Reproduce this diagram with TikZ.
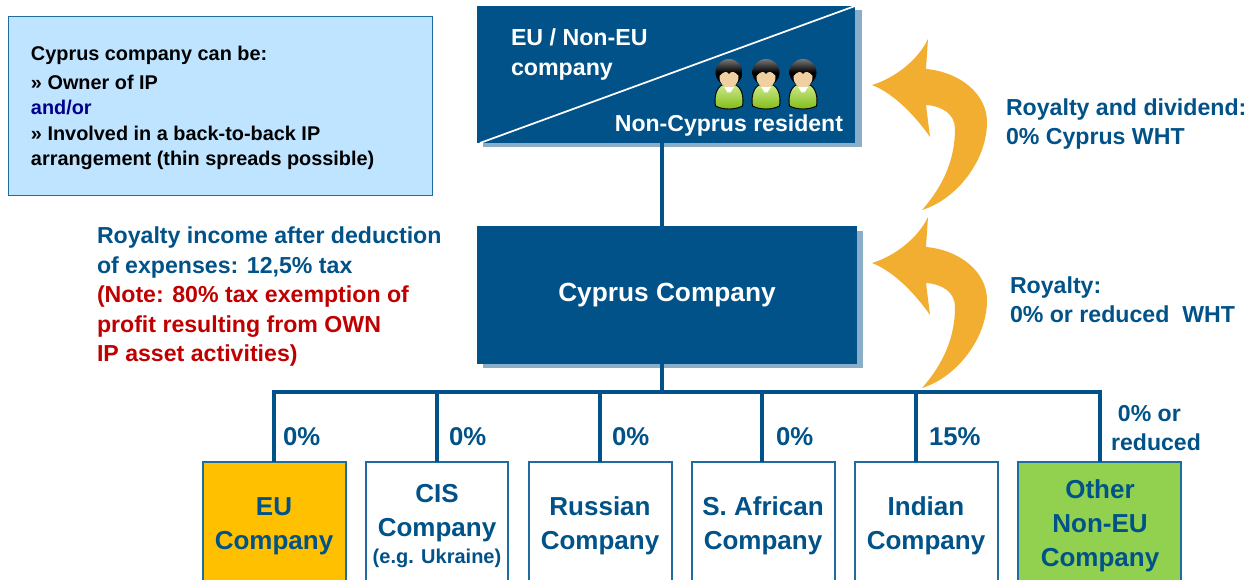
\documentclass[tikz,border=0pt]{standalone}
\usepackage{fontspec}
\setmainfont{Liberation Sans}[BoldFont={Liberation Sans Bold}]
\definecolor{navy}{HTML}{005288}
\definecolor{shadowblue}{HTML}{8AAEC8}
\definecolor{amber}{HTML}{F2AE30}
\definecolor{paleblue}{HTML}{BFE4FF}
\definecolor{boxedge}{HTML}{1F6CA0}
\definecolor{goldfill}{HTML}{FFC000}
\definecolor{leaffill}{HTML}{92D050}
\definecolor{redtxt}{HTML}{C00000}
\definecolor{deepblue}{HTML}{00008B}
\definecolor{skin}{HTML}{F0CFA0}
\definecolor{shirtlight}{HTML}{CDE88A}
\definecolor{shirtdark}{HTML}{7DBB12}
\definecolor{hairlight}{HTML}{777777}
\tikzset{
  x=0.75pt,y=-0.75pt,
  txt/.style={font=\bfseries\fontsize{#1}{#1}\selectfont,inner sep=0pt,outer sep=0pt},
  navybox/.style={fill=navy,draw=none,inner sep=0pt,outer sep=0pt,text=white},
  wire/.style={draw=navy,line width=3pt},
  leafbox/.style={draw=boxedge,line width=1pt,inner sep=0pt,outer sep=0pt,align=center,text=navy,anchor=north west},
  arrowfill/.style={fill=amber,draw=none},
}
\newcommand{\curvedarrow}[1]{%
  \path[arrowfill,yshift=#1] (872,263) .. controls (895,256) and (918,238) .. (928,217)
   -- (926,247) .. controls (960,250) and (987,272) .. (987,300)
   .. controls (987,340) and (955,378) .. (922,388)
   .. controls (945,362) and (955,335) .. (955,307)
   .. controls (955,292) and (942,284) .. (926,283)
   -- (930,315) .. controls (916,295) and (895,272) .. (872,263) -- cycle;}
\newcommand{\person}[1]{%
  \begin{scope}[xshift=#1*0.75pt]
  \path[top color=shirtlight,bottom color=shirtdark,draw=black,line width=.7pt] (-13.5,106) .. controls (-15,98) and (-13,88) .. (-7,85) -- (7,85)
     .. controls (13,88) and (15,98) .. (13.5,106) .. controls (6,110) and (-6,110) .. (-13.5,106) -- cycle;
  \path[top color=hairlight,bottom color=black,middle color=black] (0,72.5) circle [radius=13.5];
  \path[fill=skin] (-9.5,76) .. controls (-5,71) and (-2,71) .. (0,74) .. controls (2,71) and (6,71) .. (9.5,76)
     .. controls (10,84) and (4,88) .. (0,88) .. controls (-4,88) and (-10,84) .. (-9.5,76) -- cycle;
  \path[fill=white] (-5,87) -- (5,87) -- (1,93) -- (0,91) -- (-1,93) -- cycle;
  \end{scope}}
\begin{document}
\begin{tikzpicture}
\useasboundingbox (0,0) rectangle (1257,579);
\clip (0,0) rectangle (1257,579);
% shadows
\fill[shadowblue] (483,10) rectangle (862,147);
\fill[shadowblue] (483,231) rectangle (863,368);
% info box
\node[draw=boxedge,line width=1pt,fill=paleblue,minimum width=318pt,minimum height=134pt,inner sep=0pt,anchor=north west] (info) at (8,16) {};
\node[txt=14.9,anchor=north west,align=left,text=black] (infotext) at (31,46) {Cyprus company can be:\\[7pt]» Owner of IP\\[4pt]\textcolor{deepblue}{and/or}\\[4pt]» Involved in a back-to-back IP\\[4pt]arrangement (thin spreads possible)};
% main boxes
\node[navybox,minimum width=283.5pt,minimum height=102.75pt,anchor=north west] (top) at (477,6) {};
\node[navybox,minimum width=285pt,minimum height=103.5pt,anchor=north west,txt=19.7] (cyprus) at (477,226) {Cyprus Company};
% connectors
\coordinate (bar) at (662,392);
\draw[wire,line width=3.4pt] (top.south -| bar) -- (cyprus.north -| bar);
\draw[wire] (cyprus.south -| bar) -- (bar);
% leaf boxes
\node[leafbox,fill=goldfill,minimum width=107.25pt,minimum height=100pt] (eu) at (203,462) {};
\node[leafbox,fill=white,minimum width=106.5pt,minimum height=100pt] (cis) at (366,462) {};
\node[leafbox,fill=white,minimum width=107.25pt,minimum height=100pt] (ru) at (529,462) {};
\node[leafbox,fill=white,minimum width=107.25pt,minimum height=100pt] (sa) at (692,462) {};
\node[leafbox,fill=white,minimum width=107.25pt,minimum height=100pt] (in) at (855,462) {};
\node[leafbox,fill=leaffill,minimum width=122.25pt,minimum height=100pt] (ot) at (1018,462) {};
\coordinate (bl) at (274,392); \coordinate (br) at (1100,392);
\draw[wire,line cap=rect] (bl) -- (br);
\draw[wire] (bl) -- (eu.north -| bl);
\coordinate (b2) at (437,392); \draw[wire] (b2) -- (cis.north -| b2);
\coordinate (b3) at (600,392); \draw[wire] (b3) -- (ru.north -| b3);
\coordinate (b4) at (762,392); \draw[wire] (b4) -- (sa.north -| b4);
\coordinate (b5) at (916,392); \draw[wire] (b5) -- (in.north -| b5);
\draw[wire] (br) -- (ot.north -| br);
% diagonal
\draw[white,line width=1.3pt] (top.south west) ++(3,0) -- (top.north east);
% top texts
\node[txt=17.4,text=white,anchor=north west,align=left] (eutxt) at (511,29) {EU / Non-EU\\[5pt]company};
\node[txt=17.3,text=white,anchor=north east] (ncr) at (843,115) {Non-Cyprus resident};
\person{729}\person{766}\person{803}
% arrows
\curvedarrow{0pt}
\curvedarrow{133.5pt}
% side texts
\node[txt=17.35,text=navy,anchor=north west,align=left] (t1) at (1006,99) {Royalty and dividend:\\[4.4pt]0\% Cyprus WHT};
\node[txt=17.35,text=navy,anchor=north west,align=left] (t2) at (1010,277) {Royalty:\\[4.4pt]0\% or reduced\ \ WHT};
\node[txt=17.35,anchor=north west,align=left,text=navy] (t3) at (97,227) {Royalty income after deduction\\[4.8pt]of expenses: 12,5\% tax\\[4.8pt]\textcolor{redtxt}{(Note: 80\% tax exemption of}\\[4.8pt]\textcolor{redtxt}{profit resulting from OWN}\\[4.8pt]\textcolor{redtxt}{IP asset activities)}};
% pct labels
\node[txt=19.3,text=navy,anchor=north west] (p1) at (283,428) {0\%};
\node[txt=19.3,text=navy,anchor=north west] (p2) at (449,428) {0\%};
\node[txt=19.3,text=navy,anchor=north west] (p3) at (612,428) {0\%};
\node[txt=19.3,text=navy,anchor=north west] (p4) at (776,428) {0\%};
\node[txt=19.3,text=navy,anchor=north west] (p5) at (929,428) {15\%};
\node[txt=17.3,text=navy,anchor=north,align=center] (p6) at (1156,405) {0\% or\hspace*{10pt}\\[4.4pt]reduced};
% leaf labels
\node[txt=19.5,text=navy,align=center] (l1) at (274,526) {EU\\[6pt]Company};
\node[txt=19.5,text=navy,align=center] (l2a) at (437,513) {CIS\\[6pt]Company};
\node[txt=15,text=navy] (l2b) at (437,558) {(e.g. Ukraine)};
\node[txt=19.5,text=navy,align=center] (l3) at (600,526) {Russian\\[6pt]Company};
\node[txt=19.5,text=navy,align=center] (l4) at (763,526) {S. African\\[6pt]Company};
\node[txt=19.5,text=navy,align=center] (l5) at (926,526) {Indian\\[6pt]Company};
\node[txt=19.5,text=navy,align=center] (l6) at (1100,526) {Other\\[6pt]Non-EU\\[6pt]Company};
\end{tikzpicture}
\end{document}
